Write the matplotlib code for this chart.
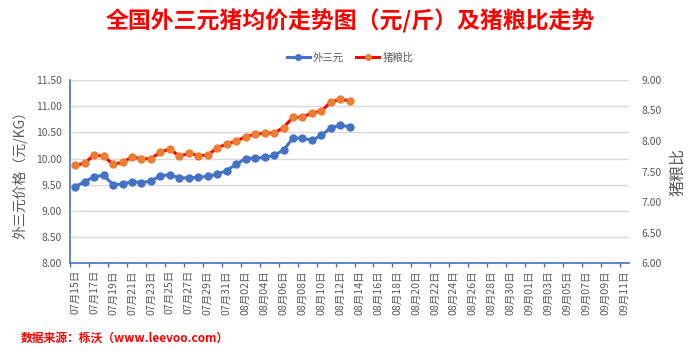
import matplotlib.pyplot as plt
import numpy as np
import pandas as pd

plt.rcParams['font.family'] = ['Noto Sans CJK SC', 'DejaVu Sans']

dates = pd.date_range('2021-07-15', '2021-09-11').strftime('%m月%d日').tolist()

price = [9.46, 9.56, 9.65, 9.68, 9.50, 9.51, 9.56, 9.54, 9.57, 9.67,
         9.69, 9.63, 9.63, 9.64, 9.66, 9.70, 9.77, 9.89, 10.00, 10.01,
         10.02, 10.06, 10.16, 10.39, 10.39, 10.35, 10.44, 10.59, 10.63, 10.61]

ratio = [7.60, 7.64, 7.77, 7.75, 7.62, 7.65, 7.74, 7.71, 7.71, 7.82,
         7.87, 7.75, 7.80, 7.76, 7.77, 7.89, 7.95, 8.00, 8.07, 8.11,
         8.13, 8.13, 8.22, 8.39, 8.39, 8.46, 8.49, 8.64, 8.68, 8.66]

blue = '#4472C4'
orange = '#ED7D31'
gray = '#595959'

fig = plt.figure(figsize=(7, 3.52), dpi=100)
ax = fig.add_axes([0.1007, 0.252, 0.798, 0.521])
ax2 = ax.twinx()

x1 = np.arange(len(price))
x2 = np.arange(len(ratio))
l1, = ax.plot(x1, price, color=blue, lw=2.2, marker='o', ms=5,
              mfc=blue, mec=blue, zorder=3)
l2, = ax2.plot(x2, ratio, color='#FF0000', lw=2.2, marker='o', ms=5,
               mfc=orange, mec=orange, zorder=3)

ax.set_xlim(-0.5, len(dates) - 0.5)
ax.set_ylim(8, 11.5)
ax2.set_ylim(6, 9)
ax.set_yticks(np.arange(8, 11.51, 0.5))
ax2.set_yticks(np.arange(6, 9.01, 0.5))
ax.yaxis.set_major_formatter(lambda v, p: f'{v:.2f}')
ax2.yaxis.set_major_formatter(lambda v, p: f'{v:.2f}')

ax.set_xticks(np.arange(0, len(dates), 2))
ax.set_xticklabels(dates[::2], rotation=90)
ax.set_xticks(np.arange(-0.5, len(dates), 2), minor=True)
ax.tick_params(axis='x', which='major', length=0, labelsize=7.6, labelcolor=gray, pad=5)
ax.tick_params(axis='x', which='minor', length=3, color=blue, width=1)
ax.tick_params(axis='y', length=0, labelsize=7.5, labelcolor=gray, pad=6)
ax2.tick_params(axis='y', length=0, labelsize=7.5, labelcolor=gray, pad=9)

ax.grid(axis='y', color='#D9D9D9', lw=1)
ax.set_axisbelow(True)
for s in ['top', 'right']:
    ax.spines[s].set_visible(False)
for s in ['top', 'right', 'left', 'bottom']:
    ax2.spines[s].set_visible(False)
ax.spines['left'].set_color(blue)
ax.spines['bottom'].set_color(blue)
ax.spines['left'].set_linewidth(1.2)
ax.spines['bottom'].set_linewidth(1.2)

ax.set_ylabel('外三元价格（元/KG）', color=gray, fontsize=10, labelpad=6)
ax2.set_ylabel('猪粮比', color=gray, fontsize=11.5, labelpad=5)

fig.text(0.5, 0.94, '全国外三元猪均价走势图（元/斤）及猪粮比走势', ha='center', va='center',
         color='#FF0000', fontsize=16.5, fontweight='bold')
fig.legend([l1, l2], ['外三元', '猪粮比'], loc='center', bbox_to_anchor=(0.5, 0.837),
           ncol=2, frameon=False, fontsize=7.5, labelcolor=gray, handlelength=2.2,
           handletextpad=0.3, columnspacing=1.2, markerscale=0.8)
fig.text(0.03, 0.04, '数据来源：栎沃（www.leevoo.com）', ha='left', va='center',
         color='#FF0000', fontsize=8.5, fontweight='bold')

fig.savefig('out.png', dpi=100)
